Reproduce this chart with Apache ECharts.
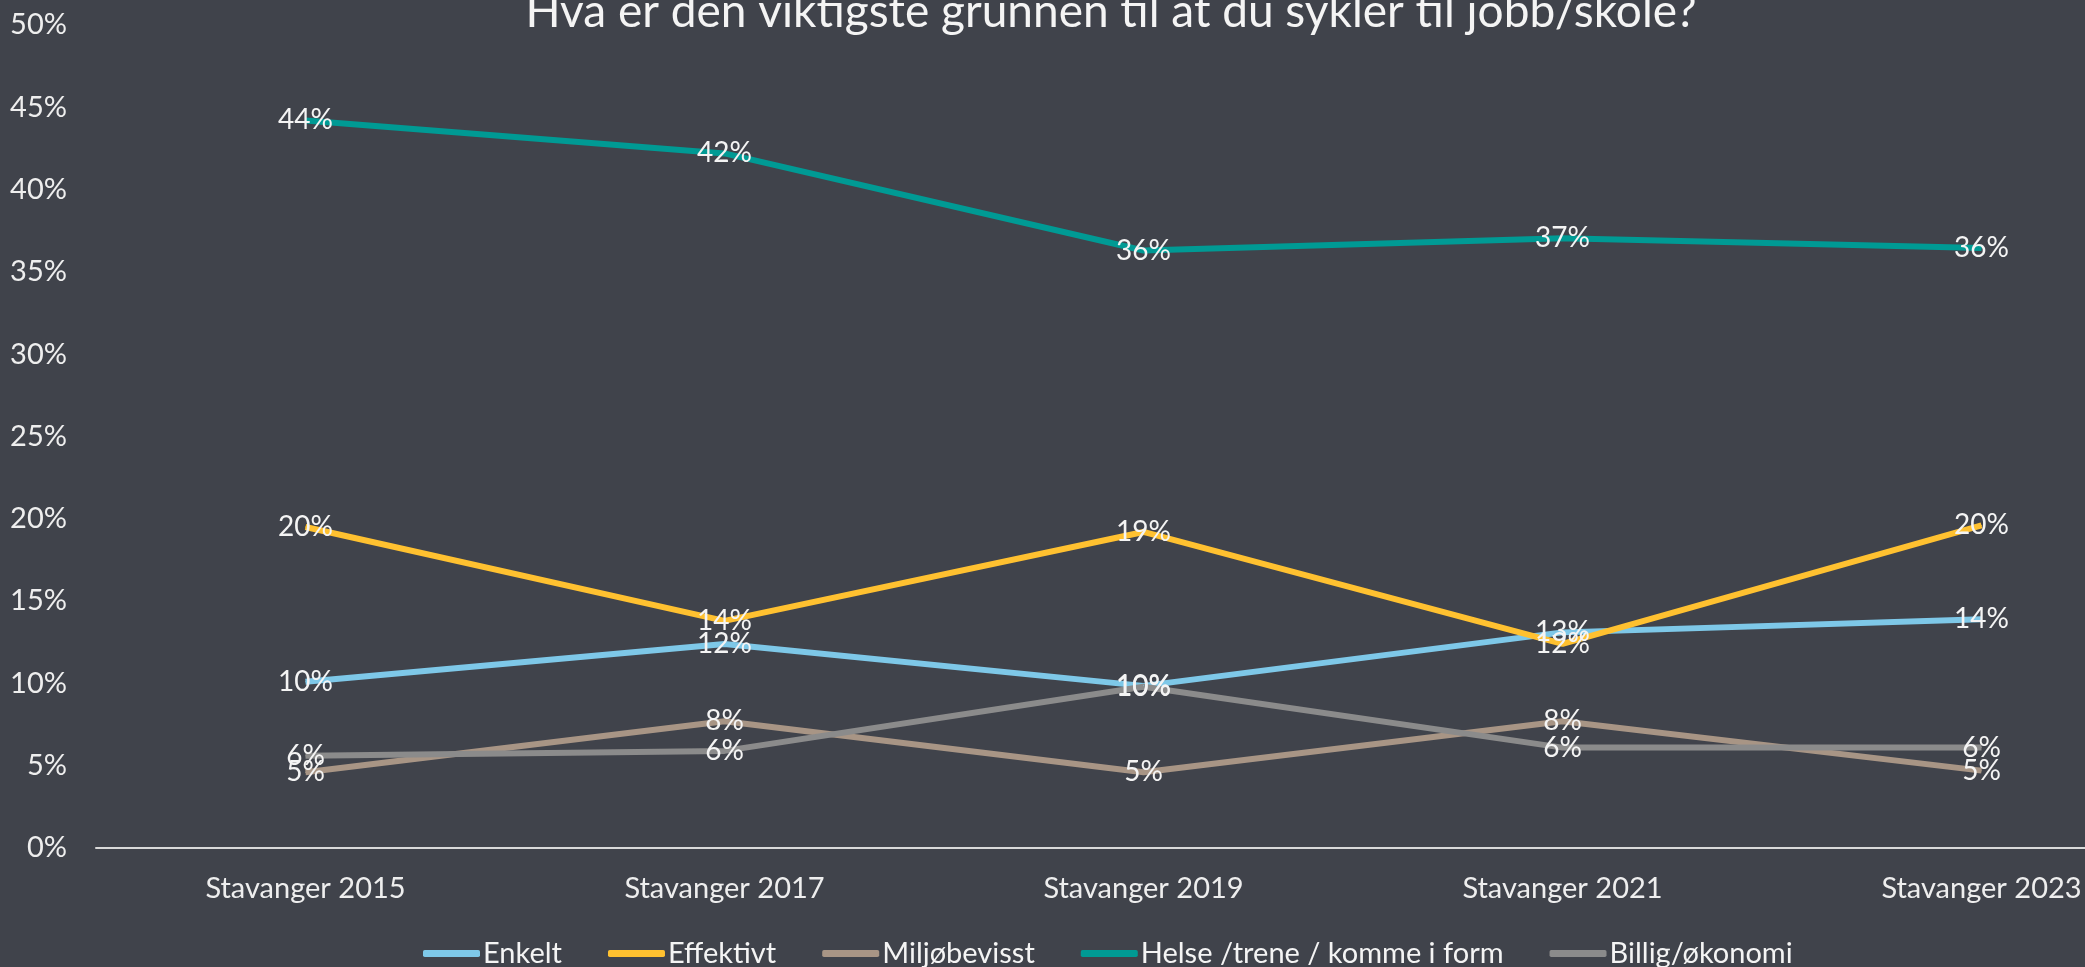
<!DOCTYPE html>
<html>
<head>
<meta charset="utf-8">
<script src="https://cdn.jsdelivr.net/npm/echarts@6/dist/echarts.min.js"></script>
<style>
  html, body { margin: 0; padding: 0; background: #40434b; }
  #chart { width: 2085px; height: 967px; }
</style>
</head>
<body>
<div id="chart"></div>
<script>
// x categories
const years = ["Stavanger 2015", "Stavanger 2017", "Stavanger 2019", "Stavanger 2021", "Stavanger 2023"]

// andel (%) per svaralternativ
const enkelt = [10.1, 12.4, 9.85, 13.1, 13.9]
const effektivt = [19.5, 13.8, 19.2, 12.4, 19.6]
const miljo = [4.6, 7.7, 4.6, 7.7, 4.7]
const helse = [44.2, 42.2, 36.3, 37.05, 36.45]
const billig = [5.6, 5.9, 9.8, 6.1, 6.1]

const names = ["Enkelt", "Effektivt", "Miljøbevisst", "Helse /trene / komme i form", "Billig/økonomi"]
const colors = ["#7ec8e8", "#ffc130", "#a89585", "#009a94", "#8b8b8b"]

const font = "Lato, 'Open Sans', sans-serif"

const makeSeries = (i, data) => ({
    name: names[i],
    type: "line",
    data: data,
    symbol: "circle",
    symbolSize: 1,
    showSymbol: true,
    lineStyle: {
        width: 6,
        color: colors[i]
    },
    itemStyle: {
        color: colors[i]
    },
    label: {
        show: true,
        position: "inside",
        color: "#f4f4f4",
        fontFamily: font,
        fontSize: 28,
        formatter: p => Math.round(p.value) + "%"
    },
    emphasis: { disabled: true }
})

const myCharts = echarts.init(document.getElementById("chart"))
myCharts.setOption({
    backgroundColor: "#40434b",
    animation: false,
    title: {
        text: "Hva er den viktigste grunnen til at du sykler til jobb/skole?",
        left: 1106,
        top: -16,
        textAlign: "center",
        textStyle: {
            color: "#f4f4f4",
            fontFamily: font,
            fontWeight: "normal",
            fontSize: 46
        }
    },
    legend: {
        data: names,
        left: 418,
        top: 934,
        icon: "roundRect",
        itemWidth: 57,
        itemHeight: 7,
        itemGap: 46,
        textStyle: {
            color: "#f4f4f4",
            fontFamily: font,
            fontSize: 29,
            padding: [0, 0, 0, -2]
        }
    },
    grid: {
        left: 96,
        top: 25,
        width: 2095,
        height: 823,
        outerBoundsMode: "none"
    },
    xAxis: {
        type: "category",
        data: years,
        boundaryGap: true,
        axisLine: {
            lineStyle: {
                color: "#d9d9d9",
                width: 2
            }
        },
        axisTick: { show: false },
        axisLabel: {
            color: "#eeeeee",
            fontFamily: font,
            fontSize: 29,
            margin: 26
        }
    },
    yAxis: {
        type: "value",
        min: 0,
        max: 50,
        interval: 5,
        axisLine: { show: false },
        axisTick: { show: false },
        splitLine: { show: false },
        axisLabel: {
            color: "#eeeeee",
            fontFamily: font,
            fontSize: 29,
            margin: 29,
            formatter: "{value}%"
        }
    },
    series: [
        makeSeries(0, enkelt),
        makeSeries(1, effektivt),
        makeSeries(2, miljo),
        makeSeries(3, helse),
        makeSeries(4, billig)
    ]
})
</script>
</body>
</html>
